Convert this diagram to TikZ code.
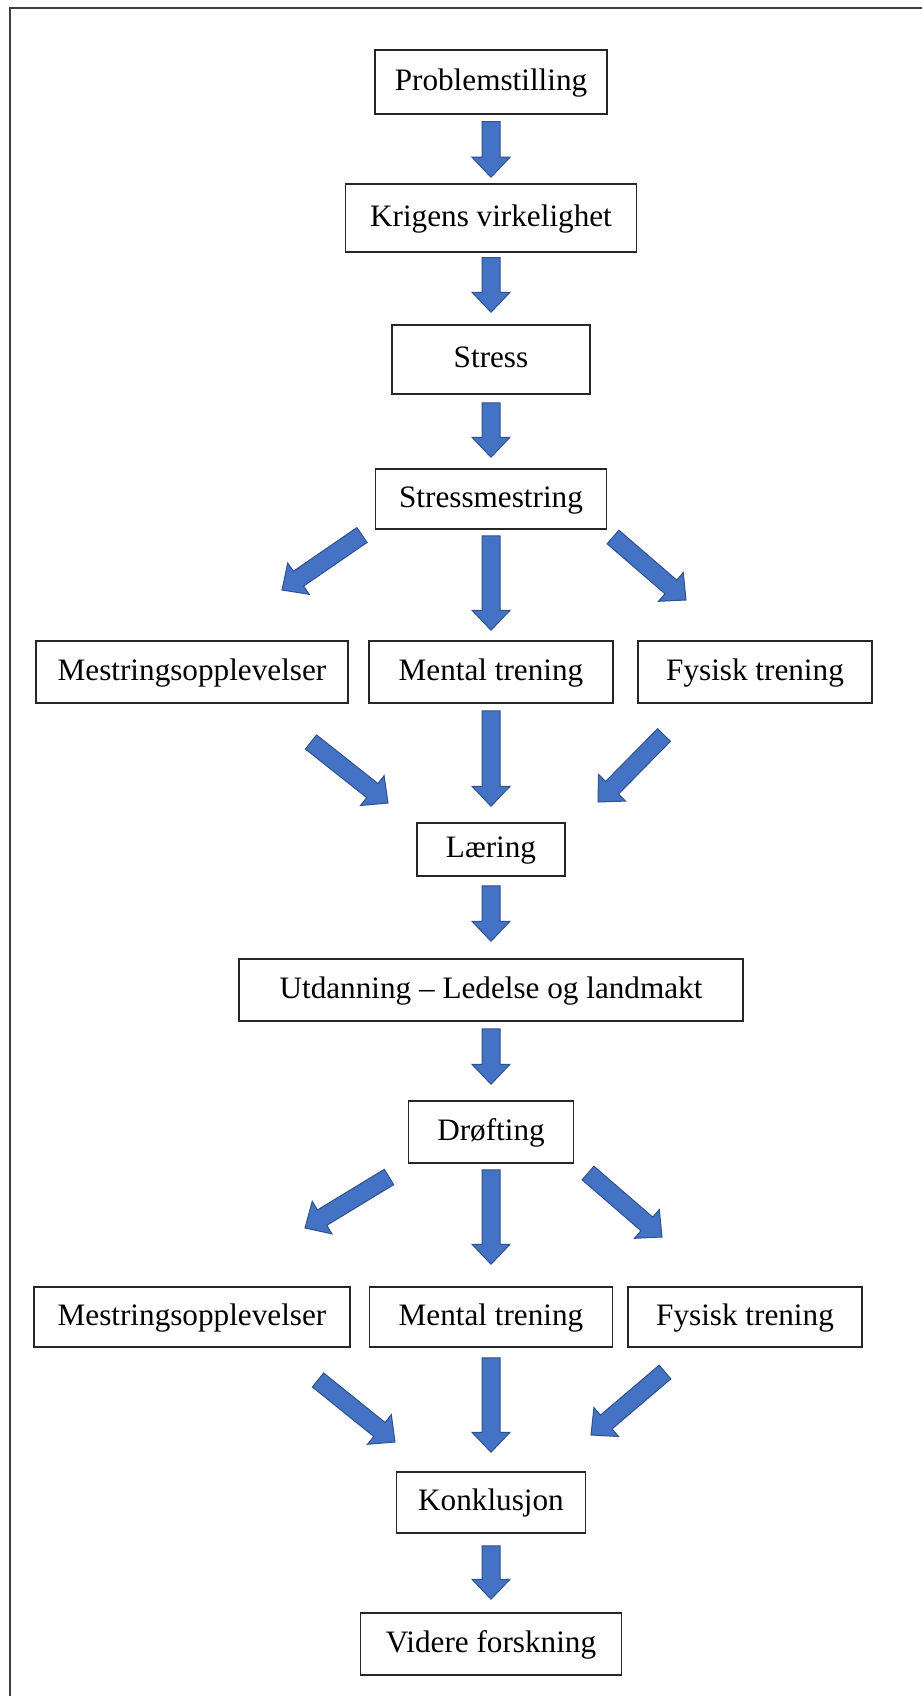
\documentclass[tikz,border=0pt]{standalone}
\usepackage{fontspec}
\setmainfont{Liberation Serif}
\usetikzlibrary{calc}
\definecolor{arrowblue}{HTML}{4472C4}
\definecolor{arrowedge}{HTML}{2F528F}
\tikzset{
  box/.style={draw=black!85, line width=0.75pt, fill=white, inner sep=0pt,
    font=\fontsize{15.6pt}{18pt}\selectfont, text height=11.2pt, text depth=3pt, align=center},
  barrow/.style={fill=arrowblue, draw=arrowedge, line width=0.5pt, line join=miter},
  frameline/.style={draw=black!75, line width=1pt}
}
\newcommand\blockarrow[2]{%
  \coordinate (batail) at (#1);
  \coordinate (bahead) at (#2);
  \coordinate (babase) at ($(bahead)!10pt!(batail)$);
  \filldraw[barrow] ($(batail)!4.5pt!90:(bahead)$) -- ($(babase)!4.5pt!90:(bahead)$)
    -- ($(babase)!9.5pt!90:(bahead)$) -- (bahead) -- ($(babase)!9.5pt!-90:(bahead)$)
    -- ($(babase)!4.5pt!-90:(bahead)$) -- ($(batail)!4.5pt!-90:(bahead)$) -- cycle;
}
\begin{document}
\begin{tikzpicture}[x=0.5pt, y=-0.5pt]
\useasboundingbox (0,0) rectangle (921,1696);
\fill[white] (0,0) rectangle (921,1696);
\draw[frameline] (9.5,1700) -- (9.5,8) -- (925,8);

% boxes (sizes in pt = px/2)
\node[box, minimum width=116pt, minimum height=32pt] (p) at (491,82) {Problemstilling};
\node[box, minimum width=145.5pt, minimum height=34pt] (k) at (491,218) {Krigens virkelighet};
\node[box, minimum width=99pt, minimum height=34.5pt] (s) at (491,359.5) {Stress};
\node[box, minimum width=115.5pt, minimum height=30pt] (sm) at (491,499) {Stressmestring};
\node[box, minimum width=156pt, minimum height=31pt] (m1) at (192,672) {Mestringsopplevelser};
\node[box, minimum width=122pt, minimum height=31pt] (mt1) at (491,672) {Mental trening};
\node[box, minimum width=117pt, minimum height=31pt] (f1) at (755,672) {Fysisk trening};
\node[box, minimum width=74pt, minimum height=26.5pt] (l) at (491,849.5) {Læring};
\node[box, minimum width=252pt, minimum height=31pt] (u) at (491,990) {Utdanning – Ledelse og landmakt};
\node[box, minimum width=82.5pt, minimum height=31pt] (d) at (491,1132) {Drøfting};
\node[box, minimum width=158pt, minimum height=30pt] (m2) at (192,1317) {Mestringsopplevelser};
\node[box, minimum width=121.5pt, minimum height=30pt] (mt2) at (491,1317) {Mental trening};
\node[box, minimum width=117pt, minimum height=30pt] (f2) at (745,1317) {Fysisk trening};
\node[box, minimum width=94.5pt, minimum height=30.5pt] (ko) at (491,1502.5) {Konklusjon};
\node[box, minimum width=130.5pt, minimum height=31pt] (v) at (491,1644) {Videre forskning};

% vertical block arrows
\blockarrow{$(p.south)+(0,7)$}{$(k.north)+(0,-6)$}
\blockarrow{$(k.south)+(0,5)$}{$(s.north)+(0,-12)$}
\blockarrow{$(s.south)+(0,8)$}{$(sm.north)+(0,-11)$}
\blockarrow{$(sm.south)+(0,6)$}{$(mt1.north)+(0,-10)$}
\blockarrow{$(mt1.south)+(0,7)$}{$(l.north)+(0,-16)$}
\blockarrow{$(l.south)+(0,9)$}{$(u.north)+(0,-17)$}
\blockarrow{$(u.south)+(0,7)$}{$(d.north)+(0,-16)$}
\blockarrow{$(d.south)+(0,6)$}{$(mt2.north)+(0,-22)$}
\blockarrow{$(mt2.south)+(0,10)$}{$(ko.north)+(0,-19)$}
\blockarrow{$(ko.south)+(0,12)$}{$(v.north)+(0,-13)$}

% diagonal arrow ends
\coordinate (d1t) at (362,535);  \coordinate (d1h) at (282,590);
\coordinate (d2t) at (613,537);  \coordinate (d2h) at (686,600);
\coordinate (d3t) at (311,742);  \coordinate (d3h) at (388,803);
\coordinate (d4t) at (664,735);  \coordinate (d4h) at (598,802);
\coordinate (d5t) at (389,1177); \coordinate (d5h) at (305,1228);
\coordinate (d6t) at (588,1173); \coordinate (d6h) at (662,1237);
\coordinate (d7t) at (318,1380); \coordinate (d7h) at (395,1442);
\coordinate (d8t) at (665,1372); \coordinate (d8h) at (591,1435);
\blockarrow{d1t}{d1h}
\blockarrow{d2t}{d2h}
\blockarrow{d3t}{d3h}
\blockarrow{d4t}{d4h}
\blockarrow{d5t}{d5h}
\blockarrow{d6t}{d6h}
\blockarrow{d7t}{d7h}
\blockarrow{d8t}{d8h}
\end{tikzpicture}
\end{document}
